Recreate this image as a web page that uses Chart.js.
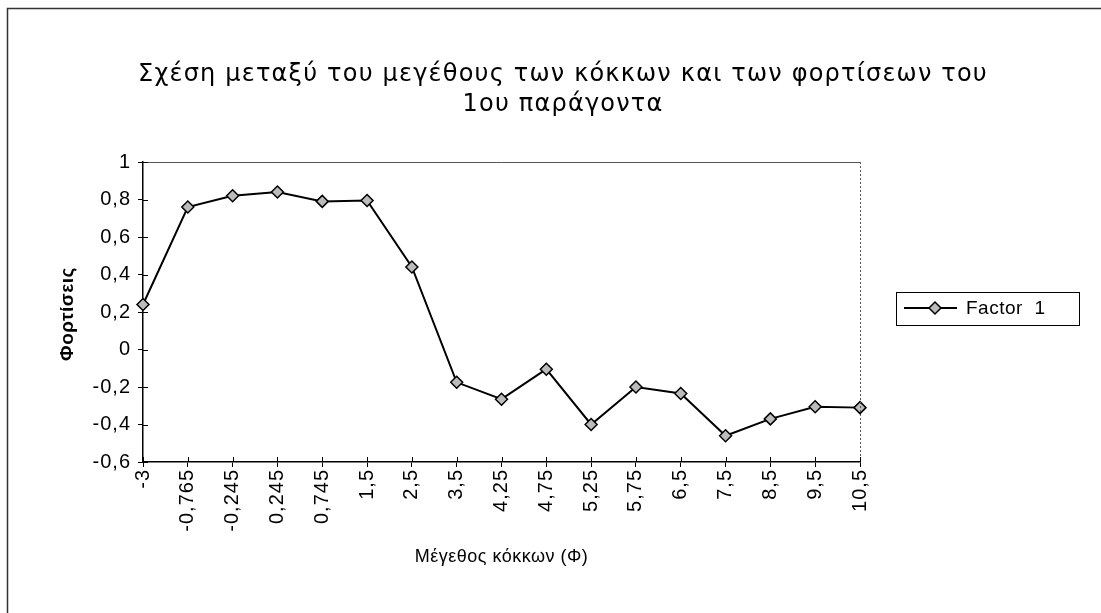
<!DOCTYPE html>
<html>
<head>
<meta charset="utf-8">
<script src="https://cdn.jsdelivr.net/npm/chart.js@4/dist/chart.umd.min.js"></script>
<style>
  html, body { margin: 0; padding: 0; background: #fff; }
  #wrap { width: 1101px; height: 613px; position: relative; }
</style>
</head>
<body>
<div id="wrap"><canvas id="chart"></canvas></div>
<script>
// grain size classes (phi) and loadings of the first factor
var sizes = ['-3', '-0,765', '-0,245', '0,245', '0,745', '1,5', '2,5', '3,5', '4,25',
             '4,75', '5,25', '5,75', '6,5', '7,5', '8,5', '9,5', '10,5'];
var factor1 = [0.24, 0.76, 0.82, 0.84, 0.79, 0.795, 0.44, -0.175, -0.265,
               -0.105, -0.40, -0.20, -0.235, -0.46, -0.37, -0.305, -0.31];

var titleLines = ['Σχέση μεταξύ του μεγέθους των κόκκων και των φορτίσεων του', '1ου παράγοντα'];
var xTitle = 'Μέγεθος κόκκων (Φ)';
var yTitle = 'Φορτίσεις';
var seriesName = 'Factor  1';

var labelFont = '"Liberation Sans", Arial, sans-serif';

function commaNum(v) {
    var r = Math.round(v * 10) / 10;
    return String(r).replace('.', ',');
}

function diamond(ctx, x, y, r) {
    ctx.beginPath();
    ctx.moveTo(x, y - r);
    ctx.lineTo(x + r, y);
    ctx.lineTo(x, y + r);
    ctx.lineTo(x - r, y);
    ctx.closePath();
    ctx.fill();
    ctx.stroke();
}

var decorations = {
    id: 'decorations',
    beforeDraw: function(chart) {
        var ctx = chart.ctx;
        ctx.save();
        ctx.fillStyle = '#fff';
        ctx.fillRect(0, 0, chart.width, chart.height);
        // outer frame
        ctx.strokeStyle = '#333';
        ctx.lineWidth = 1.5;
        ctx.beginPath();
        ctx.moveTo(7.5, chart.height);
        ctx.lineTo(7.5, 8.5);
        ctx.lineTo(chart.width, 8.5);
        ctx.stroke();
        ctx.restore();
        // slightly wider spacing for the tick labels drawn next
        ctx.letterSpacing = '1px';
    },
    afterDraw: function(chart) {
        var ctx = chart.ctx;
        var a = chart.chartArea;
        var xs = chart.scales.x, ys = chart.scales.y;
        ctx.save();

        // plot area border, top and right
        ctx.strokeStyle = '#555';
        ctx.lineWidth = 1;
        ctx.beginPath();
        ctx.moveTo(a.left, a.top + 0.5);
        ctx.lineTo(a.right, a.top + 0.5);
        ctx.stroke();
        ctx.setLineDash([2, 2]);
        ctx.beginPath();
        ctx.moveTo(a.right + 0.5, a.top);
        ctx.lineTo(a.right + 0.5, a.bottom);
        ctx.stroke();
        ctx.setLineDash([]);

        // inner half of the cross tick marks
        ctx.strokeStyle = '#000';
        ctx.lineWidth = 1;
        ctx.beginPath();
        ys.ticks.forEach(function(t, i) {
            var y = Math.round(ys.getPixelForTick(i)) + 0.5;
            ctx.moveTo(a.left, y);
            ctx.lineTo(a.left + 5, y);
        });
        xs.ticks.forEach(function(t, i) {
            var x = Math.round(xs.getPixelForTick(i)) + 0.5;
            ctx.moveTo(x, a.bottom);
            ctx.lineTo(x, a.bottom - 5);
        });
        ctx.stroke();

        // chart title
        ctx.fillStyle = '#000';
        ctx.textAlign = 'center';
        ctx.textBaseline = 'middle';
        ctx.font = '24px "DejaVu Sans", sans-serif';
        ctx.letterSpacing = '1.2px';
        ctx.fillText(titleLines[0], 563, 75);
        ctx.fillText(titleLines[1], 563, 105);

        // axis titles
        ctx.font = '18px ' + labelFont;
        ctx.letterSpacing = '0.5px';
        ctx.fillText(xTitle, (a.left + a.right) / 2, 557);
        ctx.save();
        ctx.font = 'bold 19px ' + labelFont;
        ctx.translate(68, 314);
        ctx.rotate(-Math.PI / 2);
        ctx.fillText(yTitle, 0, 0);
        ctx.restore();

        // legend
        ctx.strokeStyle = '#000';
        ctx.lineWidth = 1;
        ctx.strokeRect(896.5, 292.5, 183, 33);
        ctx.lineWidth = 2;
        ctx.beginPath();
        ctx.moveTo(904, 308);
        ctx.lineTo(957, 308);
        ctx.stroke();
        ctx.fillStyle = '#bbb';
        ctx.lineWidth = 1.5;
        diamond(ctx, 935, 308, 6);
        ctx.fillStyle = '#000';
        ctx.textAlign = 'left';
        ctx.font = '19px ' + labelFont;
        ctx.letterSpacing = '0.5px';
        ctx.fillText(chart.data.datasets[0].label, 966, 309);

        ctx.restore();
    }
};

new Chart(document.getElementById('chart'), {
    type: 'line',
    data: {
        labels: sizes,
        datasets: [{
            label: seriesName,
            data: factor1,
            borderColor: '#000',
            borderWidth: 2,
            pointStyle: 'rectRot',
            pointRadius: 6,
            pointBackgroundColor: '#bbb',
            pointBorderColor: '#000',
            pointBorderWidth: 1.5,
            tension: 0
        }]
    },
    options: {
        responsive: true,
        maintainAspectRatio: false,
        animation: false,
        layout: { padding: { top: 162, right: 241, bottom: 0, left: 0 } },
        plugins: {
            legend: { display: false },
            title: { display: false },
            tooltip: { enabled: false }
        },
        scales: {
            x: {
                type: 'category',
                offset: false,
                afterFit: function(s) { s.height = 151; },
                border: { display: true, color: '#000', width: 1.5 },
                grid: { drawOnChartArea: false, drawTicks: true, tickLength: 5, color: '#000' },
                ticks: {
                    autoSkip: false,
                    maxRotation: 90,
                    minRotation: 90,
                    padding: 2,
                    color: '#000',
                    font: { family: labelFont, size: 20 }
                }
            },
            y: {
                min: -0.6,
                max: 1,
                afterFit: function(s) { s.width = 143; },
                border: { display: true, color: '#000', width: 1.5 },
                grid: { drawOnChartArea: false, drawTicks: true, tickLength: 5, color: '#000' },
                ticks: {
                    stepSize: 0.2,
                    padding: 7,
                    color: '#000',
                    font: { family: labelFont, size: 20 },
                    callback: function(v) { return commaNum(v); }
                }
            }
        }
    },
    plugins: [decorations]
});
</script>
</body>
</html>
